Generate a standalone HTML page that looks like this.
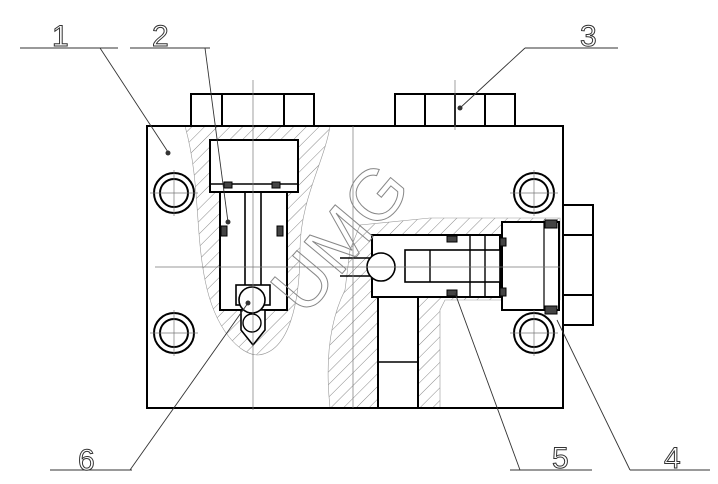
<!DOCTYPE html>
<html><head><style>body{margin:0;background:#fff}svg{display:block}</style></head><body>
<svg width="718" height="484" viewBox="0 0 718 484" xmlns="http://www.w3.org/2000/svg">
<defs>
<pattern id="h" width="9" height="9" patternUnits="userSpaceOnUse" patternTransform="rotate(45)">
<line x1="0" y1="0" x2="0" y2="9" stroke="#555" stroke-width="0.7"/></pattern>
</defs>
<g fill="none" stroke="#000">
<path d="M185,126 C200,180 195,230 205,280 C215,330 240,355 258,355 C290,352 300,300 300,250 C300,200 325,160 330,126 Z" fill="url(#h)" stroke="#999" stroke-width="0.6"/>
<path d="M330,408 C325,360 330,320 345,290 L350,250 L360,225 L430,218 L560,218 L560,300 L445,300 L440,310 L440,408 Z" fill="url(#h)" stroke="#999" stroke-width="0.6"/>
<rect x="210" y="140" width="88" height="52" fill="#fff" stroke-width="2"/>
<path d="M220,192 L287,192 L287,310 L220,310 Z" fill="#fff" stroke-width="2"/>
<path d="M241,310 L265,310 L265,330 L253,345 L241,330 Z" fill="#fff" stroke-width="1.6"/>
<line x1="245" y1="192" x2="245" y2="290" stroke-width="1.6"/>
<line x1="261" y1="192" x2="261" y2="290" stroke-width="1.6"/>
<rect x="236" y="285" width="34" height="20" fill="#fff" stroke-width="1.6"/>
<circle cx="252" cy="300" r="13" fill="#fff" stroke-width="1.6"/>
<circle cx="252" cy="323" r="9" fill="#fff" stroke-width="1.4"/>
<line x1="210" y1="184" x2="298" y2="184" stroke-width="1.4"/>
<rect x="372" y="235" width="128" height="62" fill="#fff" stroke-width="2"/>
<rect x="378" y="297" width="40" height="111" fill="#fff" stroke-width="2"/>
<line x1="378" y1="362" x2="418" y2="362" stroke-width="1.4"/>
<rect x="405" y="250" width="95" height="32" fill="#fff" stroke-width="1.6"/>
<line x1="430" y1="250" x2="430" y2="282" stroke-width="1.4"/>
<line x1="470" y1="235" x2="470" y2="297" stroke-width="1.4"/>
<line x1="485" y1="235" x2="485" y2="297" stroke-width="1.4"/>
<circle cx="381" cy="267" r="14" fill="#fff" stroke-width="1.6"/>
<line x1="340" y1="258" x2="370" y2="258" stroke-width="1.4"/>
<line x1="340" y1="276" x2="370" y2="276" stroke-width="1.4"/>
<rect x="502" y="222" width="57" height="88" fill="#fff" stroke-width="2"/>
<line x1="544" y1="222" x2="544" y2="310" stroke-width="1.2"/>
<g fill="#444" stroke="#000" stroke-width="1">
<rect x="224" y="182" width="8" height="6"/><rect x="272" y="182" width="8" height="6"/>
<rect x="221" y="226" width="6" height="10"/><rect x="277" y="226" width="6" height="10"/>
<rect x="447" y="236" width="10" height="6"/><rect x="447" y="290" width="10" height="6"/>
<rect x="500" y="238" width="6" height="8"/><rect x="500" y="288" width="6" height="8"/>
<rect x="545" y="220" width="12" height="8"/><rect x="545" y="306" width="12" height="8"/>
</g>
<rect x="147" y="126" width="416" height="282" stroke-width="2"/>
<rect x="191" y="94" width="123" height="32" stroke-width="2"/>
<line x1="222" y1="94" x2="222" y2="126" stroke-width="2"/><line x1="284" y1="94" x2="284" y2="126" stroke-width="2"/>
<rect x="395" y="94" width="120" height="32" stroke-width="2"/>
<line x1="425" y1="94" x2="425" y2="126" stroke-width="2"/><line x1="455" y1="94" x2="455" y2="126" stroke-width="2"/><line x1="485" y1="94" x2="485" y2="126" stroke-width="2"/>
<rect x="563" y="205" width="30" height="120" stroke-width="2"/>
<line x1="563" y1="235" x2="593" y2="235" stroke-width="2"/><line x1="563" y1="295" x2="593" y2="295" stroke-width="2"/>
<g stroke-width="2">
<circle cx="174" cy="193" r="20"/><circle cx="174" cy="193" r="14"/>
<circle cx="174" cy="333" r="20"/><circle cx="174" cy="333" r="14"/>
<circle cx="534" cy="193" r="20"/><circle cx="534" cy="193" r="14"/>
<circle cx="534" cy="333" r="20"/><circle cx="534" cy="333" r="14"/>
</g>
<g stroke="#777" stroke-width="0.7">
<line x1="253" y1="80" x2="253" y2="410"/><line x1="353" y1="126" x2="353" y2="408"/>
<line x1="155" y1="267" x2="560" y2="267"/><line x1="455" y1="80" x2="455" y2="130"/>
<line x1="150" y1="193" x2="198" y2="193"/><line x1="174" y1="170" x2="174" y2="216"/>
<line x1="150" y1="333" x2="198" y2="333"/><line x1="174" y1="310" x2="174" y2="356"/>
<line x1="510" y1="193" x2="558" y2="193"/><line x1="534" y1="170" x2="534" y2="216"/>
<line x1="510" y1="333" x2="558" y2="333"/><line x1="534" y1="310" x2="534" y2="356"/>
</g>
<g stroke="#333" stroke-width="0.9">
<line x1="20" y1="48" x2="118" y2="48"/><line x1="100" y1="48" x2="168" y2="152"/>
<line x1="130" y1="48" x2="210" y2="48"/><line x1="205" y1="48" x2="228" y2="222"/>
<line x1="525" y1="48" x2="618" y2="48"/><line x1="525" y1="48" x2="460" y2="108"/>
<line x1="50" y1="470" x2="132" y2="470"/><line x1="130" y1="470" x2="248" y2="303"/>
<line x1="510" y1="470" x2="592" y2="470"/><line x1="520" y1="470" x2="455" y2="293"/>
<line x1="630" y1="470" x2="710" y2="470"/><line x1="630" y1="470" x2="557" y2="320"/>
</g>
</g>
<g fill="#333"><circle cx="168" cy="153" r="2.5"/><circle cx="228" cy="222" r="2.5"/><circle cx="460" cy="108" r="2.5"/><circle cx="248" cy="303" r="2.5"/></g>
<g font-family="Liberation Sans, sans-serif" font-size="30" fill="#fff" stroke="#333" stroke-width="1" font-weight="300">
<text x="52" y="46">1</text><text x="152" y="46">2</text><text x="580" y="46">3</text>
<text x="78" y="470">6</text><text x="552" y="468">5</text><text x="664" y="468">4</text>
</g>
<text x="0" y="0" transform="translate(305,318) rotate(-50)" font-family="Liberation Sans, sans-serif" font-size="72" fill="none" stroke="#888" stroke-width="1">UMG</text>
</svg>
</body></html>
